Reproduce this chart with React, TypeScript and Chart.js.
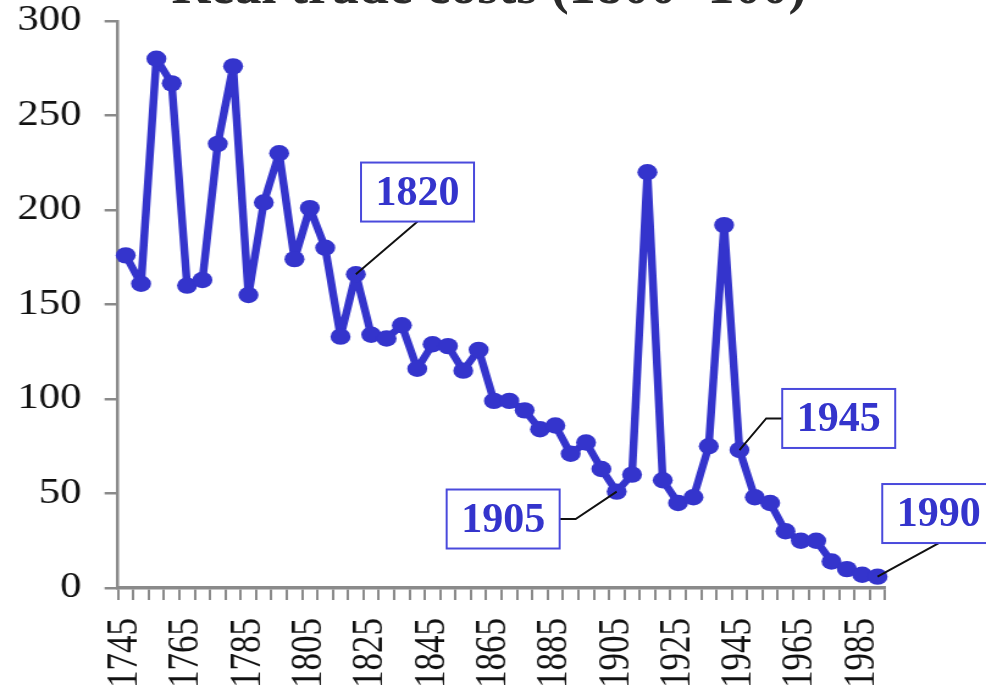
import React, { useEffect, useRef } from "react";
import { Chart, registerables } from "chart.js";

Chart.register(...registerables);

const years: string[] = [
  "1745","1750","1755","1760","1765","1770","1775","1780","1785","1790",
  "1795","1800","1805","1810","1815","1820","1825","1830","1835","1840",
  "1845","1850","1855","1860","1865","1870","1875","1880","1885","1890",
  "1895","1900","1905","1910","1915","1920","1925","1930","1935","1940",
  "1945","1950","1955","1960","1965","1970","1975","1980","1985","1990",
];

const tradeCosts: number[] = [
  176, 161, 280, 267, 160, 163, 235, 276, 155, 204,
  230, 174, 201, 180, 133, 166, 134, 132, 139, 116,
  129, 128, 115, 126, 99, 99, 94, 84, 86, 71,
  77, 63, 51, 60, 220, 57, 45, 48, 75, 192,
  73, 48, 45, 30, 25, 25, 14, 10, 7, 6,
];

const yTicks: number[] = [0, 50, 100, 150, 200, 250, 300];
const labelEvery = 4;

const titleText = "Real trade costs (1800=100)";

// callouts: label, point index, box centre in (category index, value), leader style
const calloutLabels: string[] = ["1820", "1905", "1945", "1990"];
const calloutPoints: number[] = [15, 32, 40, 49];
const calloutBoxX: number[] = [19.02, 24.6, 46.47, 52.99];
const calloutBoxY: number[] = [209.5, 36.5, 89.7, 39.4];
const calloutLeader: string[] = ["bottom", "right", "left", "bottom"];

const PAGE_W = 986;
const PAGE_H = 695;
const STRETCH = 1.22; // the embedded chart is stretched horizontally
const CANVAS_W = Math.round(PAGE_W / STRETCH);

const BLUE = "#3434cc";
const AXIS = "#8a8a8a";
const SERIF = "'Liberation Serif', 'Times New Roman', serif";

export default function App() {
  const canvasRef = useRef<HTMLCanvasElement | null>(null);
  const overlayRef = useRef<HTMLCanvasElement | null>(null);

  useEffect(() => {
    if (!canvasRef.current) return;

    const overlayPlugin = {
      id: "overlay",
      afterDraw(chart: any) {
        const ov = overlayRef.current;
        if (!ov) return;
        const ctx = ov.getContext("2d");
        if (!ctx) return;
        ctx.clearRect(0, 0, PAGE_W, PAGE_H);
        const sx = PAGE_W / chart.width;
        const xs = chart.scales.x;
        const ys = chart.scales.y;
        const meta = chart.getDatasetMeta(0);

        // title, cut off by the top edge
        ctx.save();
        ctx.fillStyle = "#2a2a2a";
        ctx.font = `bold 54px ${SERIF}`;
        ctx.textAlign = "center";
        ctx.textBaseline = "alphabetic";
        ctx.fillText(titleText, 489, 3);
        ctx.restore();

        const bw = 113;
        const bh = 59;
        ctx.save();
        for (let i = 0; i < calloutLabels.length; i++) {
          const pt = meta.data[calloutPoints[i]];
          const px = pt.x * sx;
          const py = pt.y;
          const cx = xs.getPixelForValue(calloutBoxX[i]) * sx;
          const cy = ys.getPixelForValue(calloutBoxY[i]);
          const left = cx - bw / 2;
          const top = cy - bh / 2;
          ctx.strokeStyle = "#111";
          ctx.lineWidth = 2;
          ctx.beginPath();
          const mode = calloutLeader[i];
          if (mode === "bottom") {
            ctx.moveTo(cx, top + bh);
          } else if (mode === "right") {
            ctx.moveTo(left + bw, cy);
            ctx.lineTo(left + bw + 16, cy);
          } else {
            ctx.moveTo(left, cy);
            ctx.lineTo(left - 16, cy);
          }
          ctx.lineTo(px, py);
          ctx.stroke();
          ctx.fillStyle = "#ffffff";
          ctx.fillRect(left, top, bw, bh);
          ctx.strokeStyle = "#4a4adc";
          ctx.lineWidth = 2;
          ctx.strokeRect(left, top, bw, bh);
          ctx.fillStyle = BLUE;
          ctx.font = `bold 42px ${SERIF}`;
          ctx.textAlign = "center";
          ctx.textBaseline = "middle";
          ctx.fillText(calloutLabels[i], cx, cy + 2);
        }
        ctx.restore();
      },
    };

    const chart = new Chart(canvasRef.current, {
      type: "line",
      data: {
        labels: years,
        datasets: [
          {
            data: tradeCosts,
            borderColor: BLUE,
            backgroundColor: BLUE,
            borderWidth: 6.5,
            borderJoinStyle: "round",
            borderCapStyle: "round",
            pointRadius: 8.2,
            pointBackgroundColor: BLUE,
            pointBorderColor: BLUE,
            pointBorderWidth: 0,
            tension: 0,
            fill: false,
          },
        ],
      },
      options: {
        responsive: false,
        animation: false,
        devicePixelRatio: 1,
        layout: { padding: { top: 0, right: CANVAS_W - 885 / STRETCH, left: 0, bottom: 0 } },
        plugins: {
          legend: { display: false },
          tooltip: { enabled: false },
          title: { display: false },
        },
        scales: {
          x: {
            type: "category",
            offset: true,
            grid: {
              display: true,
              drawOnChartArea: false,
              drawTicks: true,
              tickLength: 12,
              color: AXIS,
              lineWidth: 2,
              offset: true,
            },
            border: { display: true, color: AXIS, width: 3.5 },
            ticks: {
              autoSkip: false,
              maxRotation: 90,
              minRotation: 90,
              padding: 18,
              color: "#111",
              font: { family: SERIF, size: 35 },
              callback: (_v: any, i: number) => (i % labelEvery === 0 ? years[i] : ""),
            },
            afterFit: (scale: any) => {
              scale.height = PAGE_H - 588;
            },
          },
          y: {
            min: 0,
            max: 300,
            afterBuildTicks: (scale: any) => {
              scale.ticks = yTicks.map((v) => ({ value: v }));
            },
            grid: {
              display: true,
              drawOnChartArea: false,
              drawTicks: true,
              tickLength: 11,
              color: AXIS,
              lineWidth: 2.5,
            },
            border: { display: true, color: AXIS, width: 2.5 },
            ticks: {
              padding: 19,
              color: "#111",
              font: { family: SERIF, size: 35, lineHeight: 4 / 35 },
            },
            afterFit: (scale: any) => {
              scale.width = 118 / STRETCH;
            },
          },
        },
      },
      plugins: [overlayPlugin],
    });
    return () => chart.destroy();
  }, []);

  return (
    <div style={{ position: "absolute", left: 0, top: 0, width: PAGE_W, height: PAGE_H, background: "#fff", overflow: "hidden" }}>
      <canvas
        ref={canvasRef}
        width={CANVAS_W}
        height={PAGE_H}
        style={{ position: "absolute", left: 0, top: 0, width: PAGE_W + "px", height: PAGE_H + "px", display: "block" }}
      />
      <canvas
        ref={overlayRef}
        width={PAGE_W}
        height={PAGE_H}
        style={{ position: "absolute", left: 0, top: 0, width: PAGE_W + "px", height: PAGE_H + "px", pointerEvents: "none" }}
      />
    </div>
  );
}
